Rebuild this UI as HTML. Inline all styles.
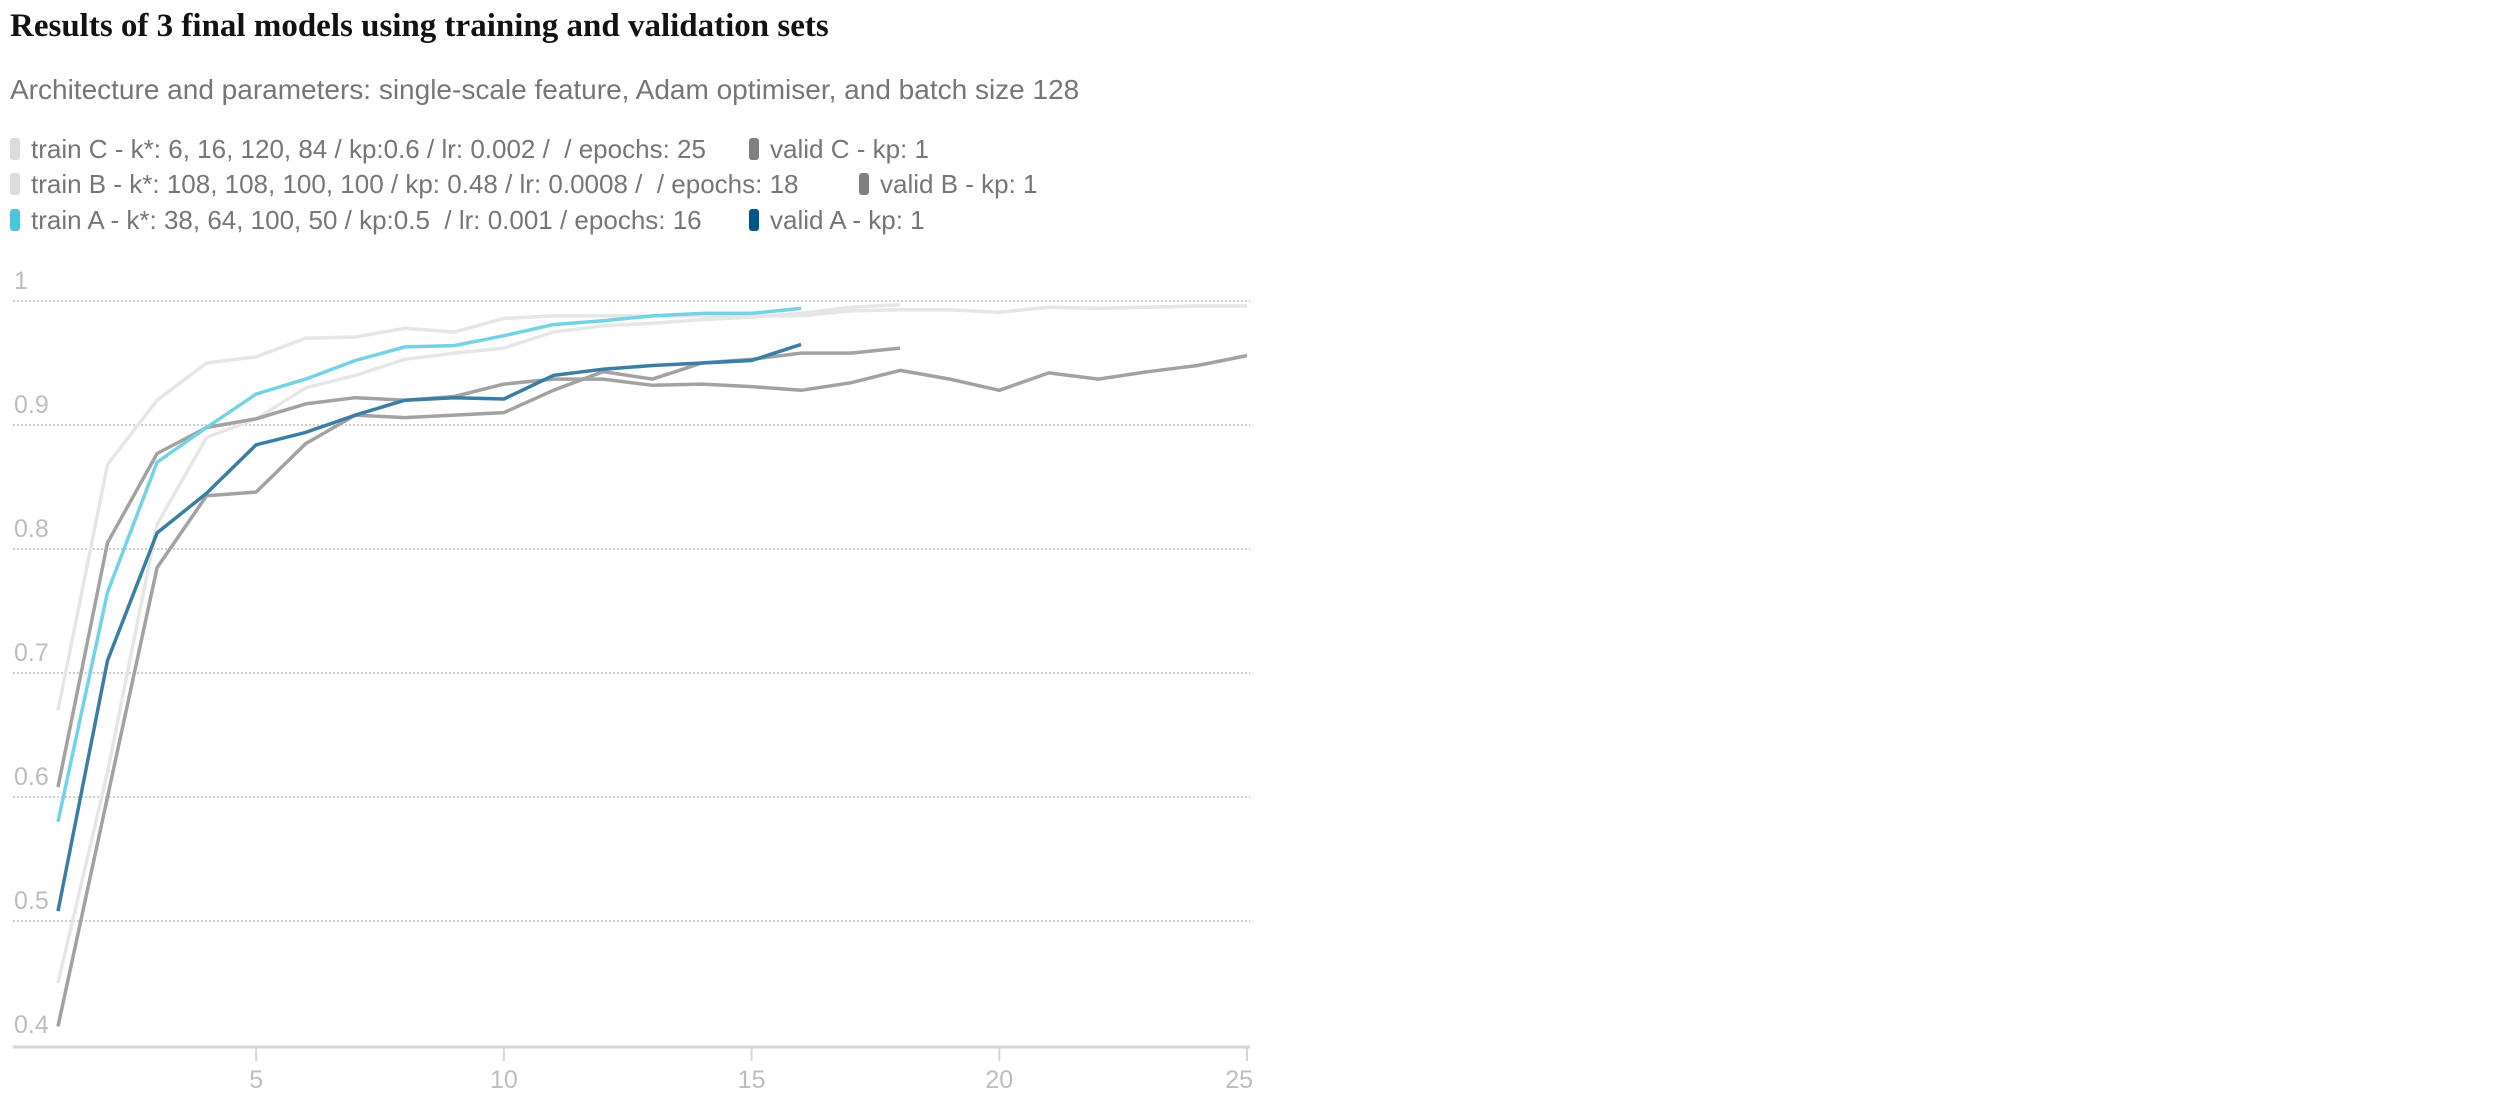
<!DOCTYPE html>
<html><head><meta charset="utf-8"><style>
html,body{margin:0;padding:0;background:#fff;width:2514px;height:1098px;overflow:hidden}
svg{display:block}
text{white-space:pre}
</style></head><body>
<svg id="chart" width="2514" height="1098" xmlns="http://www.w3.org/2000/svg">
<text x="10" y="36" font-family="Liberation Serif, serif" font-weight="bold" font-size="33" fill="#121212">Results of 3 final models using training and validation sets</text>
<text x="10" y="99" font-family="Liberation Sans, sans-serif" font-size="28" fill="#767676">Architecture and parameters: single-scale feature, Adam optimiser, and batch size 128</text>
<g id="legend" font-family="Liberation Sans, sans-serif" font-size="26" fill="#767676"></g>
<g id="grid"></g>
<g id="yaxis"></g>
<g id="xaxis"></g>
<g id="series"></g>
</svg>
<script>
const yTicks = [1, 0.9, 0.8, 0.7, 0.6, 0.5, 0.4];
const yTickLabels = ["1", "0.9", "0.8", "0.7", "0.6", "0.5", "0.4"];
const xTicks = [5, 10, 15, 20, 25];
const trainC = [0.67,0.868,0.92,0.95,0.955,0.97,0.971,0.978,0.975,0.986,0.988,0.988,0.988,0.988,0.988,0.988,0.992,0.993,0.993,0.991,0.995,0.994,0.995,0.996,0.996];
const validC = [0.608,0.805,0.877,0.898,0.905,0.917,0.922,0.92,0.923,0.933,0.937,0.937,0.932,0.933,0.931,0.928,0.934,0.944,0.937,0.928,0.942,0.937,0.943,0.948,0.956];
const trainB = [0.45,0.62,0.82,0.89,0.905,0.93,0.94,0.953,0.958,0.962,0.975,0.98,0.982,0.985,0.987,0.99,0.995,0.997];
const validB = [0.415,0.6,0.785,0.843,0.846,0.885,0.908,0.906,0.908,0.91,0.928,0.943,0.937,0.95,0.953,0.958,0.958,0.962];
const trainA = [0.58,0.765,0.87,0.898,0.925,0.937,0.952,0.963,0.964,0.972,0.981,0.984,0.988,0.99,0.99,0.994];
const validA = [0.508,0.71,0.813,0.845,0.884,0.894,0.908,0.92,0.922,0.921,0.94,0.945,0.948,0.95,0.952,0.965];
const legendLabels = ["train C - k*: 6, 16, 120, 84 / kp:0.6 / lr: 0.002 /  / epochs: 25","valid C - kp: 1","train B - k*: 108, 108, 100, 100 / kp: 0.48 / lr: 0.0008 /  / epochs: 18","valid B - kp: 1","train A - k*: 38, 64, 100, 50 / kp:0.5  / lr: 0.001 / epochs: 16","valid A - kp: 1"];

const NS="http://www.w3.org/2000/svg";
const X0=58, X1=1247, Y1v=301, Y04=1045;
const xs = e => X0 + (e-1)*(X1-X0)/24;
const ys = v => Y1v + (1-v)*(Y04-Y1v)/0.6;
function mk(tag, attrs, parent){const el=document.createElementNS(NS,tag);for(const k in attrs)el.setAttribute(k,attrs[k]);parent.appendChild(el);return el;}

const grid=document.getElementById('grid'), yax=document.getElementById('yaxis'), xax=document.getElementById('xaxis');
yTicks.forEach((t,i)=>{
  if(t>0.4){
    const l=mk('line',{x1:13,x2:1250,y1:ys(t),y2:ys(t),stroke:'#cccccc','stroke-width':2,'stroke-dasharray':'2,2'},grid);
    
    
  }
  const tx=mk('text',{x:14,y:ys(t)-12,'font-family':'Liberation Sans, sans-serif','font-size':25,fill:'#bdbdbd'},yax);
  tx.textContent=yTickLabels[i];
  
  
});
const ax=mk('line',{x1:13,x2:1250,y1:1047,y2:1047,stroke:'#d6d6d6','stroke-width':3},xax);


xTicks.forEach(t=>{
  const tk=mk('line',{x1:xs(t),x2:xs(t),y1:1047,y2:1061,stroke:'#d6d6d6','stroke-width':2},xax);
  
  
  const tx=mk('text',{x:xs(t),y:1088,'text-anchor':t===25?'end':'middle','font-family':'Liberation Sans, sans-serif','font-size':25,fill:'#bdbdbd'},xax);
  if(t===25) tx.setAttribute('x', xs(t)+6);
  tx.textContent=t;
  
  
});

const seriesList=[
  {d:trainC,c:'#e6e6e6',n:'train-c-line'},
  {d:trainB,c:'#e6e6e6',n:'train-b-line'},
  {d:validC,c:'#a2a2a2',n:'valid-c-line'},
  {d:validB,c:'#a2a2a2',n:'valid-b-line'},
  {d:trainA,c:'#72d2e6',n:'train-a-line'},
  {d:validA,c:'#3a7ea5',n:'valid-a-line'}
];
const sg=document.getElementById('series');
seriesList.forEach(s=>{
  const pts=s.d.map((v,i)=>xs(i+1).toFixed(1)+','+ys(v).toFixed(1)).join(' ');
  const p=mk('polyline',{points:pts,fill:'none',stroke:s.c,'stroke-width':3.5,'stroke-linejoin':'round'},sg);
  
  
});

const lg=document.getElementById('legend');
const legendColors=['#dcdcdc','#808080','#dcdcdc','#808080','#4bc6df','#005689'];
const legendX=[10,749,10,859,10,749];
const legendY=[149,149,184,184,220,220];
legendLabels.forEach((lab,i)=>{
  const r=mk('rect',{x:legendX[i],y:legendY[i]-11,width:10,height:22,rx:3,fill:legendColors[i]},lg);
  
  
  const t=mk('text',{x:legendX[i]+21,y:legendY[i]+9},lg);
  t.textContent=lab;
  
  
});
</script>
</body></html>
